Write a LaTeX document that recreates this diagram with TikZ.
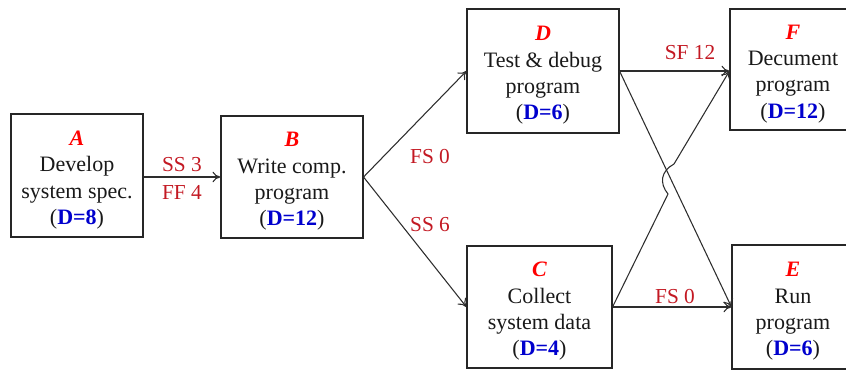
\documentclass[tikz,border=0pt]{standalone}
\usepackage{fontspec}
\setmainfont{Liberation Serif}
\usetikzlibrary{arrows.meta}
\definecolor{lblred}{RGB}{195,25,35}
\definecolor{letred}{RGB}{255,0,0}
\definecolor{durblue}{RGB}{0,0,205}
\definecolor{linegray}{RGB}{45,45,45}
\newcommand{\actletter}[1]{\textcolor{letred}{\textbf{\textit{#1}}}}
\newcommand{\durtext}[1]{(\textcolor{durblue}{\textbf{D=#1}})}
\begin{document}
\begin{tikzpicture}[x=0.75pt,y=-0.75pt,
  actbox/.style={draw=black!85, line width=0.8pt, inner sep=0pt},
  acttext/.style={inner sep=0pt, align=center, yshift=-3.3pt,
    font=\fontsize{16.5}{19.8}\selectfont, text=black!90},
  conn/.style={draw=linegray, line width=0.8pt, -{To[length=6pt,width=8pt]}},
  lbl/.style={font=\fontsize{16}{18}\selectfont, text=lblred, inner sep=0pt}]
\clip (0,0) rectangle (846,369);
\node[actbox, minimum width=132*0.75pt, minimum height=123*0.75pt] (A) at (77,175.5) {};
\node[acttext] (At) at (A.center) {\actletter{A}\\Develop\\system spec.\\\durtext{8}};
\node[actbox, minimum width=142*0.75pt, minimum height=122*0.75pt] (B) at (292,177) {};
\node[acttext] (Bt) at (B.center) {\actletter{B}\\Write comp.\\program\\\durtext{12}};
\node[actbox, minimum width=152*0.75pt, minimum height=124*0.75pt] (D) at (543,71) {};
\node[acttext] (Dt) at (D.center) {\actletter{D}\\Test \& debug\\program\\\durtext{6}};
\node[actbox, minimum width=145*0.75pt, minimum height=122*0.75pt] (C) at (539.5,307) {};
\node[acttext] (Ct) at (C.center) {\actletter{C}\\Collect\\system data\\\durtext{4}};
\node[actbox, minimum width=126*0.75pt, minimum height=121*0.75pt] (F) at (793,69.5) {};
\node[acttext] (Ft) at (F.center) {\actletter{F}\\Decument\\program\\\durtext{12}};
\node[actbox, minimum width=122*0.75pt, minimum height=124*0.75pt] (E) at (793,307) {};
\node[acttext] (Et) at (E.center) {\actletter{E}\\Run\\program\\\durtext{6}};
% connectors
\draw[conn] (A.east |- 0,177) coordinate (ae) -- (B.west);
\node[lbl] (l1) at (182,165) {SS 3};
\node[lbl] (l2) at (182,192) {FF 4};
\coordinate (bf) at (B.east);
\draw[conn] (bf) -- (D.west);
\draw[conn] (bf) -- (C.west);
\node[lbl] (l3) at (430,157) {FS 0};
\node[lbl] (l4) at (430,225) {SS 6};
\draw[conn] (D.east) -- (F.west |- 0,71);
\node[lbl] (l5) at (690,53) {SF 12};
\draw[conn] (D.east) -- (E.west);
\coordinate (h1) at (668,194);
\coordinate (h2) at (674,164);
\draw[conn] (C.east) -- (h1) .. controls (659,183) and (661,171) .. (h2) -- (F.west |- 0,71);
\draw[conn] (C.east) -- (E.west);
\node[lbl] (l6) at (675,297) {FS 0};
\end{tikzpicture}
\end{document}
